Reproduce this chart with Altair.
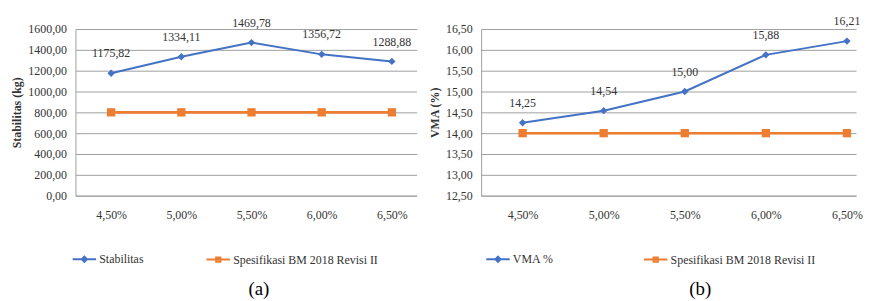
import altair as alt
import pandas as pd

x_labels = ["4,50%", "5,00%", "5,50%", "6,00%", "6,50%"]
stabilitas = [1175.82, 1334.11, 1469.78, 1356.72, 1288.88]
spec_stabilitas = [800, 800, 800, 800, 800]
vma = [14.25, 14.54, 15.00, 15.88, 16.21]
spec_vma = [14, 14, 14, 14, 14]
stab_ticks = [0, 200, 400, 600, 800, 1000, 1200, 1400, 1600]
vma_ticks = [12.5, 13.0, 13.5, 14.0, 14.5, 15.0, 15.5, 16.0, 16.5]
spec_name = "Spesifikasi BM 2018 Revisi II"

FONT = "Liberation Serif"
BLUE = "#4472C4"
ORANGE = "#ED7D31"
GRID = "#a0a0a0"
TXT = "#333333"

# legend symbols: a line with a marker on it (Excel style)
SYM_DIAMOND = "M-1,0H1M0,-0.22L0.22,0L0,0.22L-0.22,0Z"
SYM_SQUARE = "M-1,0H1M-0.18,-0.18H0.18V0.18H-0.18Z"


def panel(series_name, values, spec_values, ticks, y_title, w, h, xpad, xalign,
          legend_x, legend_y, col_pad, caption, caption_dx, caption_offset):
    df = pd.DataFrame({
        "kadar": x_labels * 2,
        "nilai": values + spec_values,
        "seri": [series_name] * len(values) + [spec_name] * len(spec_values),
    })
    dom = [series_name, spec_name]
    x = alt.X("kadar:N", sort=x_labels,
              scale=alt.Scale(type="point", padding=xpad, align=xalign),
              axis=alt.Axis(title=None, labelAngle=0, ticks=False, domainColor=GRID,
                            labelPadding=14, labelFont=FONT, labelFontSize=12,
                            labelColor=TXT))
    y = alt.Y("nilai:Q",
              scale=alt.Scale(domain=[ticks[0], ticks[-1]], nice=False, zero=False),
              axis=alt.Axis(values=ticks, title=y_title,
                            labelExpr="replace(format(datum.value, '.2f'), '.', ',')",
                            grid=True, gridColor=GRID, domainColor=GRID, ticks=False,
                            labelPadding=9, labelFont=FONT, labelFontSize=12,
                            labelColor=TXT, titleFont=FONT, titleFontSize=12,
                            titleFontWeight="bold", titleColor=TXT, titlePadding=4))
    color = alt.Color("seri:N", scale=alt.Scale(domain=dom, range=[BLUE, ORANGE]),
                      legend=None)
    base = alt.Chart(df)
    line = base.mark_line().encode(
        x=x, y=y, color=color,
        strokeWidth=alt.StrokeWidth("seri:N", scale=alt.Scale(domain=dom, range=[2, 2.6]),
                                    legend=None))
    pts = base.mark_point(filled=True, opacity=1).encode(
        x=x, y=y, color=color,
        shape=alt.Shape("seri:N", scale=alt.Scale(domain=dom, range=["diamond", "square"]),
                        legend=None),
        size=alt.Size("seri:N", scale=alt.Scale(domain=dom, range=[55, 70]), legend=None))
    labels = base.transform_filter(alt.datum.seri == series_name).transform_calculate(
        lbl="replace(format(datum.nilai, '.2f'), '.', ',')"
    ).mark_text(dy=-20, font=FONT, fontSize=12, color=TXT).encode(x=x, y=y, text="lbl:N")
    leg = dict(orient="none", legendX=legend_x, legendY=legend_y, direction="horizontal",
               title=None, labelFont=FONT, labelFontSize=12, labelColor=TXT,
               symbolSize=560, symbolStrokeWidth=2, columnPadding=col_pad, labelOffset=2)
    dummy = base.transform_filter("false").mark_point(filled=False, strokeWidth=2, opacity=1).encode(
        x=x, y=y,
        color=alt.Color("seri:N", scale=alt.Scale(domain=dom, range=[BLUE, ORANGE]),
                        legend=alt.Legend(**leg)),
        shape=alt.Shape("seri:N", scale=alt.Scale(domain=dom, range=[SYM_DIAMOND, SYM_SQUARE]),
                        legend=alt.Legend(**leg)))
    return alt.layer(line, pts, labels, dummy).resolve_scale(
        color="independent", shape="independent", size="independent",
        strokeWidth="independent"
    ).properties(
        width=w, height=h,
        title=alt.TitleParams(caption, orient="bottom", anchor="middle", font=FONT,
                              fontSize=19, fontWeight="normal", color="#000",
                              dx=caption_dx, offset=caption_offset))


left = panel("Stabilitas", stabilitas, spec_stabilitas, stab_ticks, "Stabilitas (kg)",
             344, 168, 0.431, 0.59, -4, 219, 59, "(a)", 13, 14)
right = panel("VMA %", vma, spec_vma, vma_ticks, "VMA (%)",
              378, 168, 0.312, 0.82, 4, 219, 87, "(b)", 32, 14)

chart = alt.hconcat(left, right, spacing=12).resolve_scale(
    color="independent", shape="independent"
).properties(
    padding={"left": 3, "top": 6, "right": 0, "bottom": 0},
    background="white",
).configure_view(stroke=None)

chart.save("out.html", embed_options={"renderer": "svg", "actions": False})
